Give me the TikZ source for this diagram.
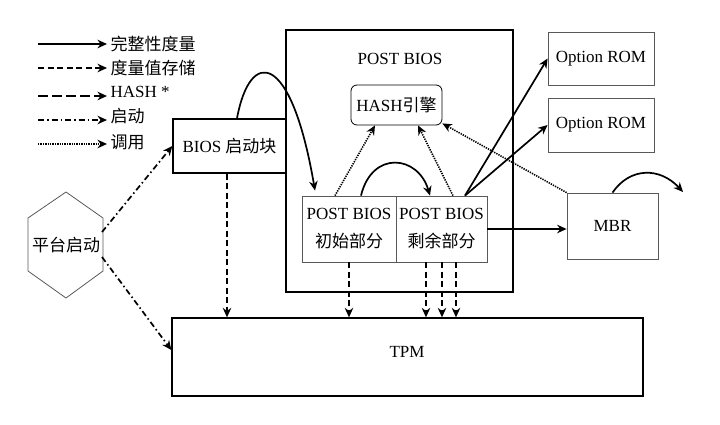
\documentclass[tikz,border=0pt]{standalone}
\usepackage{fontspec}
\setmainfont{Liberation Serif}
\newfontfamily\cjk{Noto Sans CJK SC}
\usetikzlibrary{arrows.meta, calc}

\begin{document}
\begin{tikzpicture}[x=1pt, y=-1pt, >={Stealth[length=9.5pt,width=8.5pt]},
	every node/.style={font=\fontsize{17}{20}\selectfont},
	frame/.style={draw, line width=1.3pt, inner sep=0pt},
	box/.style={draw=black!65, line width=0.8pt, inner sep=0pt},
	twoline/.style={align=center, font=\fontsize{17}{28}\selectfont},
	measure/.style={line width=1.7pt},
	store/.style={line width=1.7pt, dash pattern=on 6pt off 3.5pt},
	hashed/.style={line width=1.7pt, dash pattern=on 10pt off 4pt},
	boot/.style={line width=1.7pt, dash pattern=on 6pt off 3pt on 1.5pt off 3pt},
	callline/.style={line width=1.6pt, dash pattern=on 1.3pt off 1.1pt}]
	\useasboundingbox (0,0) rectangle (720,424);
	% Legend
	\node[anchor=west] (key1) at (107,44) {{\cjk 完整性度量}};
	\node[anchor=west] (key2) at (107,68) {{\cjk 度量值存储}};
	\node[anchor=west] (key3) at (107,92) {HASH *};
	\node[anchor=west] (key4) at (107,116) {{\cjk 启动}};
	\node[anchor=west] (key5) at (107,142) {{\cjk 调用}};
	\coordinate (l1) at (38,44);
	\coordinate (l2) at (38,68);
	\coordinate (l3) at (38,96);
	\coordinate (l4) at (38,120);
	\coordinate (l5) at (38,144);
	\draw[measure,->] (l1) -- (l1 -| key1.west);
	\draw[store,->] (l2) -- (l2 -| key2.west);
	\draw[hashed,->] (l3) -- (l3 -| key3.west);
	\draw[boot,->] (l4) -- (l4 -| key4.west);
	\draw[callline,->] (l5) -- (l5 -| key5.west);
	
	% Blocks
	\node[frame, minimum width=113pt, minimum height=54pt] (bios) at (229.5,146) {BIOS {\cjk 启动块}};
	\node[frame, minimum width=227pt, minimum height=262pt] (post) at (399.5,161) {};
	\node (posttitle) at (400,59) {POST BIOS};
	\node[box, draw=black, rounded corners=6pt, minimum width=91pt, minimum height=40pt] (hash) at (396.5,105) {HASH{\cjk 引擎}};
	\node[box, twoline, minimum width=94pt, minimum height=66pt] (init) at (349,229) {POST BIOS\\{\cjk 初始部分}};
	\node[box, twoline, minimum width=91pt, minimum height=66pt] (rest) at (441.5,229) {POST BIOS\\{\cjk 剩余部分}};
	\node[box, minimum width=106pt, minimum height=53pt] (rom1) at (601,58.5) {Option ROM};
	\node[box, minimum width=106pt, minimum height=54pt] (rom2) at (601,125) {Option ROM};
	\node[box, minimum width=91pt, minimum height=66pt] (mbr) at (612.5,226) {MBR};
	\node[frame, minimum width=471pt, minimum height=78pt] (tpm) at (407.5,357) {};
	\node (tpmtext) at (407,352) {TPM};
	% hexagon
	\draw[box] (66,192) -- (103,218) -- (103,271) -- (66,298) -- (28,271) -- (28,218) -- cycle;
	\node (plat) at (66,245) {{\cjk 平台启动}};
	\coordinate (hexU) at (102,232);
	\coordinate (hexD) at (102,257);
	\coordinate (mbrout) at (683,192);
	
	% Measurement
	\draw[measure,->] ([xshift=7.5pt]bios.north) .. controls (250,48) and (291,50) .. ([xshift=-34pt,yshift=5pt]init.north);
	\draw[measure,->] ([xshift=12pt]init.north) .. controls (372,150) and (418,155) .. ([xshift=-11.5pt]rest.north);
	\draw[measure,->] (mbr.north) .. controls (630,167) and (660,167) .. (mbrout);
	\draw[measure,->] ([xshift=23.5pt]rest.north) -- (rom1.west);
	\draw[measure,->] ([xshift=23.5pt]rest.north) -- (rom2.west);
	\draw[measure,->] (rest.east) -- (rest.east -| mbr.west);
	% Calls to the hash engine
	\draw[callline,->] ([xshift=-14pt]init.north) -- ([xshift=-21.5pt]hash.south);
	\draw[callline,->] ([xshift=11.5pt]rest.north) -- ([xshift=21.5pt]hash.south);
	\draw[callline,->] (mbr.north west) -- ([yshift=2pt]hash.south east);
	% Boot
	\draw[boot,->] (hexU) -- (bios.west);
	\draw[boot,->] (hexD) -- ([yshift=7pt]tpm.west);
	% Store into TPM
	\draw[store,->] ([xshift=-2.5pt]bios.south) -- ([xshift=-2.5pt]bios.south |- tpm.north);
	\draw[store,->] (init.south) -- (init.south |- tpm.north);
	\foreach \dx in {-15.5,0.5,14.5}
		\draw[store,->] ([xshift=\dx pt]rest.south) -- ([xshift=\dx pt]rest.south |- tpm.north);
\end{tikzpicture}
\end{document}
